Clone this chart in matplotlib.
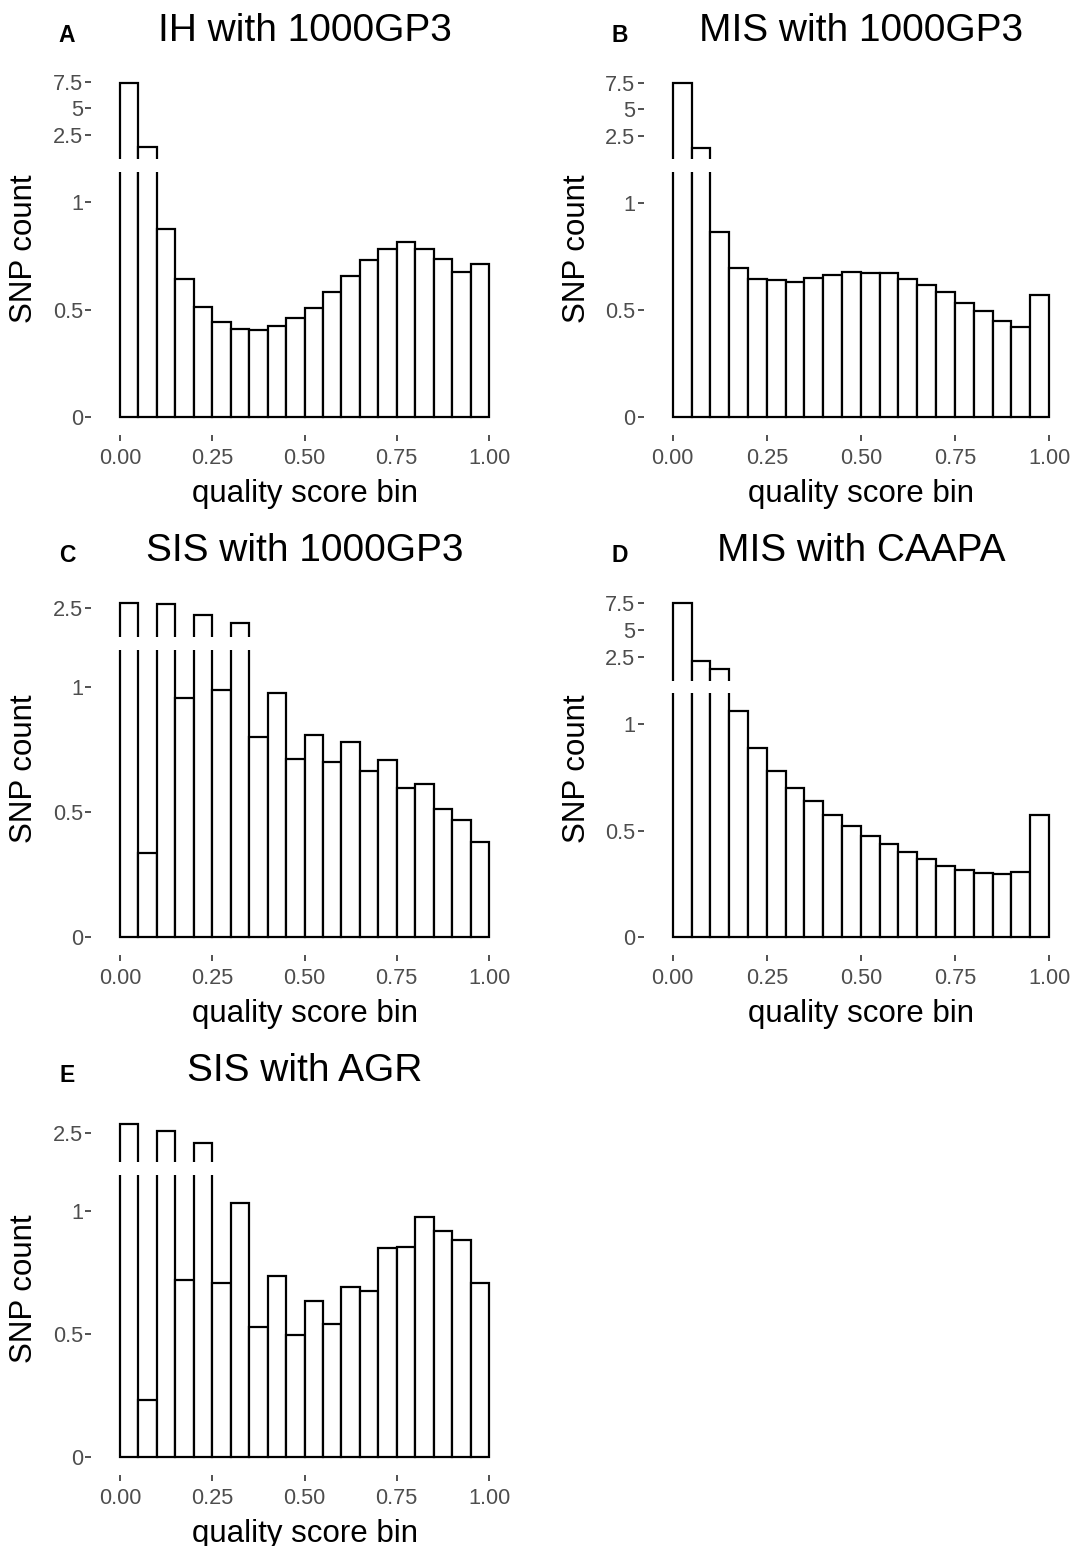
import numpy as np
import matplotlib
matplotlib.use("Agg")
from matplotlib import pyplot as plt

# SNP count per quality score bin, 20 bins of width 0.05 on [0, 1]
bin_left = np.arange(20) * 0.05
bin_width = 0.05

ih_1000gp3 = [7.41, 1.41, 0.872, 0.640, 0.510, 0.444, 0.408, 0.405, 0.423, 0.459,
              0.505, 0.580, 0.657, 0.730, 0.779, 0.815, 0.782, 0.733, 0.674, 0.711]
mis_1000gp3 = [7.50, 1.34, 0.862, 0.697, 0.644, 0.640, 0.630, 0.648, 0.665, 0.675,
               0.671, 0.671, 0.646, 0.616, 0.585, 0.533, 0.494, 0.449, 0.422, 0.570]
sis_1000gp3 = [2.875, 0.335, 2.825, 0.953, 2.025, 0.987, 1.375, 0.798, 0.973, 0.711,
               0.807, 0.701, 0.778, 0.665, 0.706, 0.594, 0.612, 0.512, 0.468, 0.382]
mis_caapa = [7.50, 2.13, 1.39, 1.063, 0.889, 0.780, 0.700, 0.639, 0.573, 0.522,
             0.475, 0.436, 0.398, 0.366, 0.336, 0.314, 0.300, 0.297, 0.306, 0.572]
sis_agr = [3.20, 0.233, 2.70, 0.720, 1.75, 0.709, 1.034, 0.528, 0.737, 0.497,
           0.635, 0.540, 0.693, 0.677, 0.848, 0.853, 0.977, 0.920, 0.882, 0.709]

x_ticks = [0, 0.25, 0.5, 0.75, 1]
x_tick_labels = ["0.00", "0.25", "0.50", "0.75", "1.00"]
low_ticks = [0, 0.5, 1]
low_tick_labels = ["0", "0.5", "1"]

W, H = 1080, 1546
plt.rcParams['font.family'] = ['Liberation Sans', 'DejaVu Sans']
fig = plt.figure(figsize=(W / 100, H / 100), dpi=100)

TXT_GREY = '#4D4D4D'
TICK_GREY = '#333333'


def px_axes(left, top, right, bottom):
    return fig.add_axes([left / W, 1 - bottom / H, (right - left) / W, (bottom - top) / H])


def style(ax):
    for s in ax.spines.values():
        s.set_visible(False)
    ax.tick_params(axis='y', length=4.3, width=1.2, color=TICK_GREY, pad=1.5,
                   labelsize=15.7, labelcolor=TXT_GREY)
    ax.tick_params(axis='x', length=4.3, width=1.2, color=TICK_GREY, pad=4.5,
                   labelsize=15.7, labelcolor=TXT_GREY)
    ax.set_xlim(-0.0775, 1.0775)


def panel(letter, title, counts, up_ticks, x0, x1, zero, ppu, low_top, t25, ppu_up, up_bot, up_top):
    span = x1 - x0
    left, right = x0 - 0.0775 * span, x1 + 0.0775 * span
    bottom = zero + 18

    # lower part of the broken axis: 0 .. break
    ax = px_axes(left, low_top, right, bottom)
    ax.bar(bin_left, counts, width=bin_width, align='edge', facecolor='white',
           edgecolor='black', linewidth=1.6)
    ax.set_ylim((zero - bottom) / ppu, (zero - low_top) / ppu)
    style(ax)
    ax.set_yticks(low_ticks)
    ax.set_yticklabels(low_tick_labels)
    ax.set_xticks(x_ticks)
    ax.set_xticklabels(x_tick_labels)
    low_max = (zero - low_top) / ppu

    # upper part: only the bins that overflow the lower part
    axu = px_axes(left, up_top, right, up_bot)
    tall = [i for i, c in enumerate(counts) if c > low_max]
    axu.bar([bin_left[i] for i in tall], [counts[i] for i in tall], width=bin_width,
            align='edge', facecolor='white', edgecolor='black', linewidth=1.6)
    axu.set_ylim(2.5 + (t25 - up_bot) / ppu_up, 2.5 + (t25 - up_top) / ppu_up)
    style(axu)
    axu.set_yticks(up_ticks)
    axu.set_yticklabels([f"{t:g}" for t in up_ticks])
    axu.set_xticks([])

    cx = (left + right) / 2
    row = zero - 417.3
    fig.text(cx / W, 1 - (31 + row) / H, title, fontsize=28, ha='center', va='center')
    fig.text((x0 - 53) / W, 1 - (35 + row) / H, letter, fontsize=16.5, fontweight='bold',
             ha='center', va='center')
    fig.text((left - 67) / W, 1 - (249 + row) / H, 'SNP count', fontsize=22.5,
             rotation=90, ha='center', va='center')
    fig.text(cx / W, 1 - (502 + row) / H, 'quality score bin', fontsize=22.5,
             ha='center', va='baseline')


panel('A', 'IH with 1000GP3', ih_1000gp3, [2.5, 5, 7.5],
      120, 489, 417.3, 215.6, 171.7, 135.0, 10.67, 159.3, 72)
panel('B', 'MIS with 1000GP3', mis_1000gp3, [2.5, 5, 7.5],
      672.7, 1049, 417.3, 214.7, 171.7, 135.7, 10.6, 159.3, 72)
panel('C', 'SIS with 1000GP3', sis_1000gp3, [2.5],
      120, 489, 937.3, 250.7, 650.0, 608.3, 13.33, 636.7, 595)
panel('D', 'MIS with CAAPA', mis_caapa, [2.5, 5, 7.5],
      672.7, 1049, 937.3, 213.3, 693.3, 657.3, 10.8, 680.7, 592)
panel('E', 'SIS with AGR', sis_agr, [2.5],
      120, 489, 1457.3, 246.3, 1175.0, 1133.3, 13.33, 1161.7, 1115)

fig.savefig('out.png', dpi=100)
